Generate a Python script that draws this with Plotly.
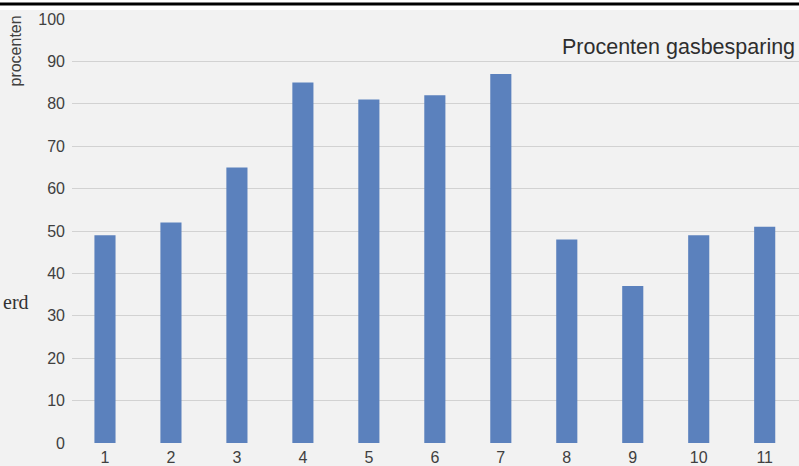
import plotly.graph_objects as go

# Percentage of gas saved per measurement
categories = [1, 2, 3, 4, 5, 6, 7, 8, 9, 10, 11]
besparing = [49, 52, 65, 85, 81, 82, 87, 48, 37, 49, 51]
y_ticks = [0, 10, 20, 30, 40, 50, 60, 70, 80, 90, 100]

W, H = 799, 466
ML, MR, MT, MB = 72, 0, 19, 23
plot_h = H - MT - MB


def py(pixel_y):
    """Convert a pixel row (from the top) to paper y."""
    return (H - MB - pixel_y) / plot_h


def px(pixel_x):
    return (pixel_x - ML) / (W - ML - MR)


fig = go.Figure(
    go.Bar(
        x=categories,
        y=besparing,
        marker=dict(color="#5b81bd", line=dict(width=0)),
        hoverinfo="x+y",
    )
)

fig.update_layout(
    width=W,
    height=H,
    margin=dict(l=ML, r=MR, t=MT, b=MB, autoexpand=False),
    paper_bgcolor="#f2f2f2",
    plot_bgcolor="#f2f2f2",
    bargap=0.68,
    showlegend=False,
    font=dict(family="Liberation Sans, Arial, sans-serif", color="#404040"),
    xaxis=dict(
        range=[0.5, 11.52],
        tickmode="array",
        tickvals=categories,
        ticktext=[str(c) for c in categories],
        showgrid=False,
        zeroline=False,
        showline=False,
        ticks="",
        ticklabelstandoff=3,
        tickfont=dict(size=16, color="#404040"),
        automargin=False,
    ),
    yaxis=dict(
        range=[0, 100],
        tickmode="array",
        tickvals=y_ticks,
        showgrid=True,
        gridcolor="#d2d2d2",
        gridwidth=1,
        zeroline=False,
        showline=False,
        ticks="",
        ticklabelstandoff=6,
        tickfont=dict(size=16, color="#404040"),
        automargin=False,
    ),
    shapes=[
        # white strip and dark rule along the top edge
        dict(type="rect", xref="paper", yref="paper",
             x0=px(0), x1=px(W), y0=py(10), y1=py(-2),
             fillcolor="white", line=dict(width=0), layer="above"),
        dict(type="line", xref="paper", yref="paper",
             x0=px(0), x1=px(W), y0=py(4), y1=py(4),
             line=dict(color="black", width=3), layer="above"),
    ],
    annotations=[
        dict(text="Procenten gasbesparing", xref="paper", yref="paper",
             x=px(797), y=py(47), xanchor="right", yanchor="middle",
             showarrow=False, font=dict(size=21.5, color="#2e2e2e")),
        dict(text="procenten", xref="paper", yref="paper",
             x=px(15.5), y=py(51), xanchor="center", yanchor="middle",
             textangle=-90, showarrow=False,
             font=dict(size=16, color="#404040")),
        dict(text="erd", xref="paper", yref="paper",
             x=px(30), y=py(302), xanchor="right", yanchor="middle",
             showarrow=False, borderpad=0,
             font=dict(family="Liberation Serif, DejaVu Serif, serif",
                       size=20, color="#333333")),
    ],
)

fig.write_html("out.html")
